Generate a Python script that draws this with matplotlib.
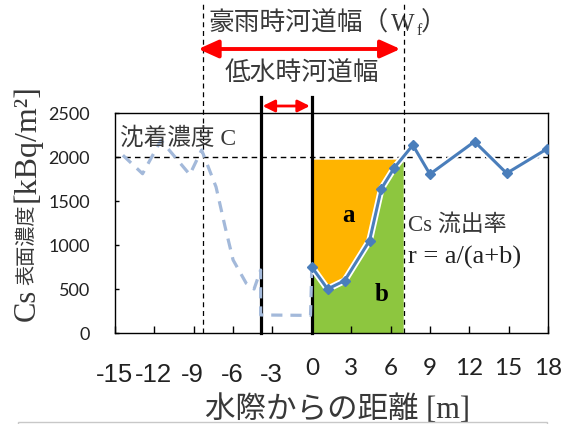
import matplotlib
matplotlib.use('Agg')
import matplotlib.pyplot as plt
import matplotlib.transforms as mtransforms
import matplotlib.patheffects as pe
from matplotlib.patches import Rectangle, Polygon
import numpy as np

# ---------------- data ----------------
dist_measured = [0.0, 1.2, 2.5, 4.4, 5.3, 6.3, 7.7, 9.0, 12.4, 14.85, 17.9]
conc_measured = [750, 500, 595, 1050, 1640, 1880, 2135, 1805, 2175, 1815, 2090]
dist_curve = [-14.4, -12.9, -11.5, -9.3, -8.4, -7.3, -6.6, -6.0, -5.0, -4.4, -3.9, -3.9, -0.1, 0.0]
conc_curve = [2020, 1810, 2190, 1800, 2080, 1660, 1200, 830, 565, 500, 716, 205, 200, 750]
deposit_conc = 2000
flood_edges = [-8.3, 7.0]
lowflow_edges = [-3.9, 0.0]
xticks = [-15, -12, -9, -6, -3, 0, 3, 6, 9, 12, 15, 18]
yticks = [0, 500, 1000, 1500, 2000, 2500]

CJK = 'Noto Sans CJK JP'
SERIF = ['Liberation Serif', CJK]
TXT = '#383838'

W, H = 563, 424
fig = plt.figure(figsize=(W / 100, H / 100), dpi=100)
def fx(px): return px / W
def fy(py): return 1 - py / H

ax = fig.add_axes([fx(115), fy(333), fx(548) - fx(115), fy(113) - fy(333)])
ax.set_xlim(-15, 18)
ax.set_ylim(0, 2500)
for s in ax.spines.values():
    s.set_linewidth(1.0)
    s.set_color('black')

# fills
n_fill = 6
green_x = [0.0] + dist_measured[:n_fill] + [flood_edges[1], flood_edges[1]]
green_y = [0.0] + conc_measured[:n_fill] + [float(np.interp(flood_edges[1], dist_measured, conc_measured)), 0.0]
ax.add_patch(Polygon(list(zip(green_x, green_y)), closed=True, facecolor='#8DC63F', edgecolor='none', zorder=1))
top = deposit_conc - 30
x_top = float(np.interp(top, conc_measured[5:7], dist_measured[5:7]))
orange_x = [0.0] + dist_measured[:n_fill] + [x_top]
orange_y = [top] + conc_measured[:n_fill] + [top]
ax.add_patch(Polygon(list(zip(orange_x, orange_y)), closed=True, facecolor='#FFB400', edgecolor='none', zorder=1))

# reference line
ax.axhline(deposit_conc, color='black', lw=1.0, ls=(0, (4, 3)), zorder=2)

trans_xfig = mtransforms.blended_transform_factory(ax.transData, fig.transFigure)

# flood-width dashed lines
for xv in flood_edges:
    ax.plot([xv, xv], [fy(333), fy(3)], transform=trans_xfig, color='black', lw=0.9,
            ls=(0, (4, 3)), clip_on=False, zorder=2)
# low-flow width lines
for xv in lowflow_edges:
    ax.plot([xv, xv], [fy(333), fy(97)], transform=trans_xfig, color='black', lw=2.3,
            clip_on=False, zorder=3)

# dashed curve
ax.plot(dist_curve, conc_curve, color='#A3B9DA', lw=2.3, ls=(0, (3.5, 2.5)), zorder=4,
        solid_joinstyle='round')

# measured line
ax.plot(dist_measured, conc_measured, color='#4A7EBB', lw=2.2, zorder=5,
        path_effects=[pe.Stroke(linewidth=4.8, foreground='white'), pe.Normal()])
ax.plot(dist_measured, conc_measured, ls='none', color='#4A7EBB', marker='D', ms=4.8, zorder=6)

# arrows
ax.annotate('', xy=(6.75, fy(49)), xytext=(-8.65, fy(49)), xycoords=trans_xfig, textcoords=trans_xfig,
            arrowprops=dict(arrowstyle='<|-|>,head_length=1.0,head_width=0.45', mutation_scale=12,
                            color='#FF0000', lw=2.8, shrinkA=0, shrinkB=0), annotation_clip=False)
ax.annotate('', xy=(-0.15, fy(106)), xytext=(-3.75, fy(106)), xycoords=trans_xfig, textcoords=trans_xfig,
            arrowprops=dict(arrowstyle='<|-|>,head_length=0.9,head_width=0.45', mutation_scale=8,
                            color='#FF0000', lw=2.0, shrinkA=0, shrinkB=0), annotation_clip=False)

# ticks
ax.tick_params(axis='both', direction='in', length=5, width=1, top=False, right=False)
ax.set_xticks(xticks)
ax.set_xticklabels([])
ax.set_yticks(yticks)
ax.set_yticklabels([str(v) for v in yticks], fontsize=13, fontfamily='Lato', color='#222222')
ax.tick_params(axis='y', pad=18)
ax.tick_params(axis='y', length=3)

tick_trans = mtransforms.blended_transform_factory(ax.transData, ax.transAxes)
for v in xticks:
    if v < 0:
        off = mtransforms.ScaledTranslation(-1 / 100, -49 / 100, fig.dpi_scale_trans)
        ax.text(v, 0, str(v), transform=tick_trans + off, ha='center', va='baseline',
                fontsize=18.5, fontfamily='Liberation Sans', color='#222222', clip_on=False)
    else:
        off = mtransforms.ScaledTranslation(0, -42 / 100, fig.dpi_scale_trans)
        ax.text(v, 0, str(v), transform=tick_trans + off, ha='center', va='baseline',
                fontsize=17.5, fontfamily='Lato', color='#222222', clip_on=False)

# in-plot texts
ax.text(-14.62, 2216, '沈着濃度 C', fontsize=17, fontfamily=SERIF, ha='left', va='center',
        color=TXT, zorder=7)
ax.text(2.76, 1330, 'a', fontsize=18, fontweight='bold', fontfamily='Liberation Serif',
        ha='center', va='center', zorder=7)
ax.text(5.35, 432, 'b', fontsize=18, fontweight='bold', fontfamily='Liberation Serif',
        ha='center', va='center', zorder=7)
ax.text(7.33, 1227, 'Cs 流出率', fontsize=16.5, fontfamily=SERIF, ha='left', va='center',
        color=TXT, zorder=7)
ax.text(7.33, 864, 'r = a/(a+b)', fontsize=19, fontfamily='Liberation Serif', ha='left',
        va='center', color='#222222', zorder=7)

# titles above
fig.text(fx(208), fy(23.5), '豪雨時河道幅（', fontsize=18.5, fontfamily=CJK, ha='left', va='center',
         color=TXT)
fig.text(fx(391), fy(25), 'W', fontsize=18, fontfamily='Liberation Serif', ha='left', va='center',
         color=TXT)
fig.text(fx(416.5), fy(31), 'f', fontsize=11.5, fontfamily='Liberation Serif', ha='left', va='center',
         color=TXT)
fig.text(fx(421), fy(23.5), '）', fontsize=18.5, fontfamily=CJK, ha='left', va='center',
         color=TXT)
fig.text(fx(225), fy(73.5), '低水時河道幅', fontsize=18.5, fontfamily=CJK, ha='left', va='center',
         color=TXT)

# y label pieces
fig.text(fx(27), fy(304.5), 'Cs', fontsize=22, fontfamily='Liberation Serif', rotation=90,
         ha='center', va='center', color=TXT)
fig.text(fx(27), fy(244.5), '表面濃度', fontsize=14.5, fontfamily=CJK, rotation=90,
         ha='center', va='center', color=TXT)
fig.text(fx(27), fy(143), '[kBq/m²]', fontsize=23, fontfamily='Liberation Serif', rotation=90,
         ha='center', va='center', color=TXT)

# x label (partly covered by frame below)
fig.text(fx(337.5), fy(395), '水際からの距離 [m]', fontsize=22, fontfamily=SERIF, ha='center',
         va='top', color=TXT)
fig.add_artist(Rectangle((fx(18), -0.05), fx(547) - fx(18), fy(422) + 0.05, transform=fig.transFigure,
                         facecolor='white', edgecolor='#C8C8C8', lw=1, zorder=10))

fig.savefig('out.png', dpi=100)
